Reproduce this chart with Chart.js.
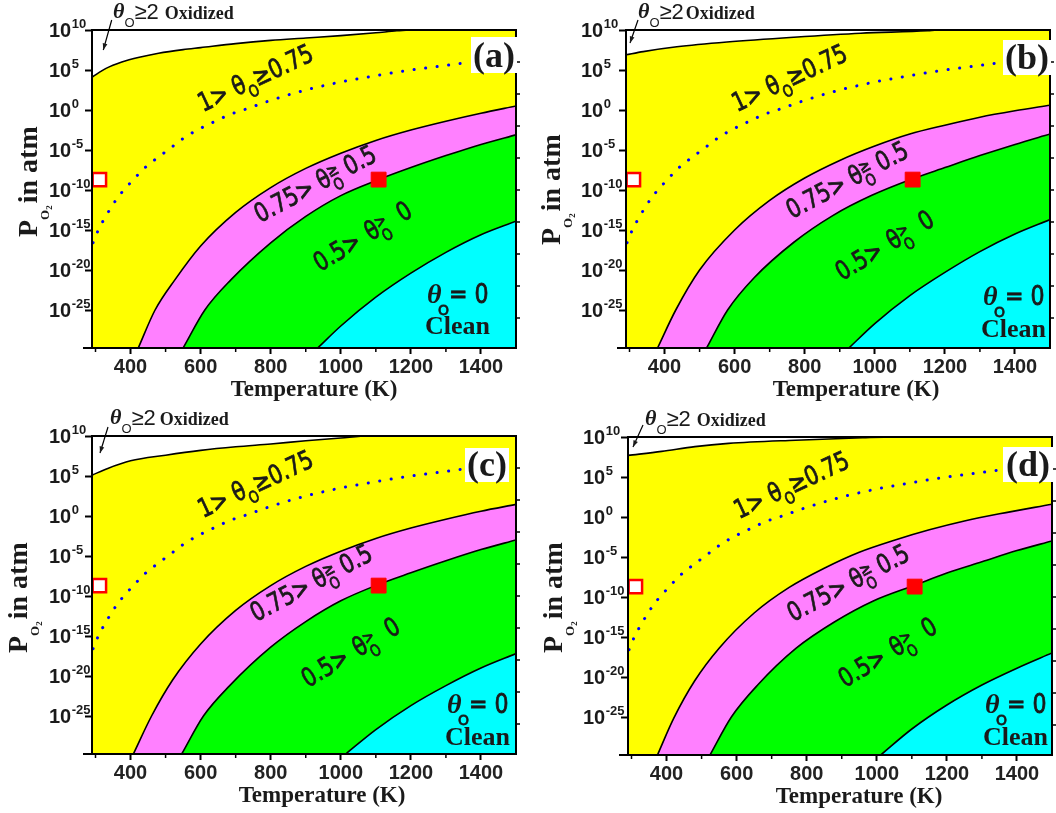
<!DOCTYPE html>
<html>
<head>
<meta charset="utf-8">
<script src="https://cdn.jsdelivr.net/npm/chart.js@4.4.0/dist/chart.umd.min.js"></script>
<style>
  html, body { margin: 0; padding: 0; background: #fff; overflow: hidden; width: 1056px; height: 813px; }
  canvas { position: absolute; }
</style>
</head>
<body>
<canvas id="pa" width="528" height="406" style="left:0;top:0"></canvas>
<canvas id="pb" width="528" height="406" style="left:534px;top:0"></canvas>
<canvas id="pc" width="528" height="406" style="left:0;top:406px"></canvas>
<canvas id="pd" width="528" height="406" style="left:536px;top:407px"></canvas>
<script>
// axis ticks
const yExps = [10, 5, 0, -5, -10, -15, -20, -25];
const xLabels = [400, 600, 800, 1000, 1200, 1400];
const xMinor = [300, 500, 700, 900, 1100, 1300];
const yRightTicks = [6, 2, -2, -6, -10, -14, -18, -22, -26];
const yMinExp = -29.75;

// boundaries, log10(P_O2 / atm) vs T (K)
// (a)
const tOxA = [290, 330, 375, 425, 480, 550, 600, 700, 800, 900, 1000, 1100, 1160, 1200, 1500];
const pOxA = [4.1, 5.2, 6.0, 6.6, 7.1, 7.55, 7.8, 8.3, 8.7, 9.0, 9.3, 9.65, 9.9, 10, 10];
const t75A = [422, 470, 527, 600, 700, 800, 900, 1000, 1100, 1200, 1300, 1400, 1500];
const p75A = [-29.75, -25, -21.2, -17, -12.8, -9.7, -7.3, -5.4, -3.8, -2.5, -1.4, -0.4, 0.5];
const t50A = [550, 612, 687, 800, 900, 1000, 1108, 1200, 1300, 1400, 1500];
const p50A = [-29.75, -25, -21.2, -16.6, -13.3, -10.7, -8.7, -7.2, -5.7, -4.3, -3.1];
const t0A = [934, 1000, 1100, 1200, 1300, 1400, 1500];
const p0A = [-29.75, -27, -23.4, -20.4, -17.8, -15.6, -13.9];
// (b)
const tOxB = [290, 339, 435, 578, 769, 960, 1151, 1180, 1500];
const pOxB = [6.9, 7.3, 7.9, 8.5, 9.1, 9.6, 9.9, 10, 10];
const t75B = [380, 432, 500, 600, 700, 800, 900, 1000, 1100, 1200, 1300, 1400, 1500];
const p75B = [-29.75, -25, -20, -15, -11.3, -8.5, -6.3, -4.5, -3.0, -1.9, -0.9, -0.1, 0.6];
const t50B = [520, 580, 655, 770, 880, 990, 1108, 1200, 1300, 1400, 1500];
const p50B = [-29.75, -25, -21, -16.5, -13.2, -10.7, -8.6, -7.2, -5.7, -4.3, -3.0];
const t0B = [926, 1000, 1100, 1200, 1300, 1400, 1500];
const p0B = [-29.75, -26.7, -23.2, -20.3, -17.7, -15.5, -13.7];
// (c)
const tOxC = [290, 335, 400, 500, 600, 700, 800, 900, 1000, 1080, 1500];
const pOxC = [5.1, 5.95, 6.9, 7.6, 8.2, 8.65, 9.0, 9.4, 9.75, 10, 10];
const t75C = [408, 460, 520, 600, 700, 800, 900, 1000, 1100, 1200, 1300, 1400, 1500];
const p75C = [-29.75, -25, -20.5, -16, -11.8, -8.7, -6.3, -4.4, -2.8, -1.5, -0.4, 0.6, 1.45];
const t50C = [546, 608, 683, 800, 900, 1000, 1105, 1200, 1300, 1400, 1500];
const p50C = [-29.75, -25, -21.2, -16.4, -13.2, -10.6, -8.6, -7.1, -5.6, -4.2, -3.0];
const t0C = [1014, 1100, 1200, 1300, 1400, 1500];
const p0C = [-29.75, -26.7, -23.7, -21.2, -19.0, -17.2];
// (d)
const tOxD = [290, 386, 481, 577, 768, 959, 1050, 1500];
const pOxD = [7.7, 8.2, 8.8, 9.2, 9.6, 9.9, 10, 10];
const t75D = [374, 420, 480, 550, 650, 750, 850, 950, 1050, 1150, 1250, 1350, 1500];
const p75D = [-29.75, -25.2, -20.5, -16.4, -12, -8.8, -6.4, -4.4, -2.9, -1.6, -0.5, 0.4, 1.6];
const t50D = [524, 585, 660, 770, 880, 990, 1110, 1200, 1300, 1400, 1500];
const p50D = [-29.75, -25, -21, -16.4, -13.1, -10.5, -8.5, -7.0, -5.6, -4.2, -3.0];
const t0D = [1011, 1100, 1200, 1300, 1400, 1500];
const p0D = [-29.75, -26.5, -23.5, -21.0, -18.9, -17.0];

// blue dotted line (same in all panels)
const tDot = [293, 309, 328, 350, 375, 406, 439, 476, 510, 544, 578, 613, 649, 684, 722, 800, 900, 1000, 1100, 1140, 1200, 1270, 1345];
const pDot = [-16.6, -14.9, -13.4, -11.8, -10.3, -8.8, -7.3, -6.0, -4.9, -3.75, -2.8, -2.0, -1.25, -0.55, 0, 1.2, 2.5, 3.5, 4.3, 4.6, 5.0, 5.4, 5.85];

// red squares [T, log10 P]
const sqOpen = [311, -8.7];
const sqFull = [1108, -8.7];

const pts = (ts, ps) => ts.map((t, i) => ({ x: t, y: Math.pow(10, ps[i]) }));

const H = '26px "DejaVu Sans"';
const Hs = '16px "DejaVu Sans"';
const Hs2 = '17px "DejaVu Sans"';
const SERIFB = '"Liberation Serif", "Times New Roman", serif';
const SANS = '"Liberation Sans", Arial, sans-serif';

function drawRuns(ctx, runs, x, y, stroke) {
  let cx = x;
  runs.forEach(r => {
    ctx.font = r.f;
    ctx.fillText(r.t, cx + (r.dx || 0), y + (r.dy || 0));
    if (stroke) ctx.strokeText(r.t, cx + (r.dx || 0), y + (r.dy || 0));
    if (!r.noAdv) cx += ctx.measureText(r.t).width + (r.gap || 0);
  });
}

function line(ctx, x1, y1, x2, y2) {
  ctx.beginPath(); ctx.moveTo(x1, y1); ctx.lineTo(x2, y2); ctx.stroke();
}

const deco = {
  id: 'deco',
  afterDraw(chart, args, o) {
    const ctx = chart.ctx, ca = chart.chartArea;
    const xs = chart.scales.x, ys = chart.scales.y;
    ctx.save();
    ctx.strokeStyle = '#000';
    ctx.fillStyle = '#1a1a1a';

    // frame
    ctx.lineWidth = 2;
    ctx.strokeRect(ca.left, ca.top, ca.right - ca.left, ca.bottom - ca.top);
    line(ctx, ca.left - 9, ca.bottom, ca.left, ca.bottom);
    ctx.lineWidth = 1.5;
    xMinor.forEach(t => {
      const x = xs.getPixelForValue(t);
      line(ctx, x, ca.bottom, x, ca.bottom + 4);
    });
    yRightTicks.forEach(e => {
      const y = ys.getPixelForValue(Math.pow(10, e));
      line(ctx, ca.right, y, ca.right + 4, y);
    });

    // y tick labels 10^n
    ctx.textAlign = 'left';
    ctx.textBaseline = 'alphabetic';
    yExps.forEach(e => {
      const y = ys.getPixelForValue(Math.pow(10, e));
      ctx.font = 'bold 20px ' + SANS;
      ctx.fillText('10', o.tickX, y + 7);
      const w = ctx.measureText('10').width;
      ctx.font = 'bold 13px ' + SANS;
      ctx.fillText(String(e), o.tickX + w + 0.5, y - 2);
    });

    // axis titles
    ctx.font = 'bold 23px ' + SERIFB;
    ctx.textAlign = 'center';
    ctx.fillText('Temperature (K)', o.xtX, 396);
    ctx.textAlign = 'left';
    ctx.save();
    ctx.translate(o.ytX, o.ytY);
    ctx.rotate(-Math.PI / 2);
    drawRuns(ctx, [
      { t: 'P', f: 'bold 28px ' + SERIFB },
      { t: 'O', f: 'bold 13px ' + SERIFB, dy: 12 },
      { t: '2', f: 'bold 9px ' + SERIFB, dy: 15, gap: 2 },
      { t: 'in atm', f: 'bold 28px ' + SERIFB }
    ], 0, 0);
    ctx.restore();

    // oxidized label + arrow
    drawRuns(ctx, [
      { t: 'θ', f: 'italic bold 22px ' + SERIFB },
      { t: 'O', f: '13px ' + SANS, dy: 9 },
      { t: '≥2', f: '22px ' + SANS, dy: 1, gap: o.oxGap },
      { t: 'Oxidized', f: 'bold 18px ' + SERIFB, dy: 1 }
    ], o.oxX, 18);
    const [ax1, ay1, ax2, ay2] = o.arrow;
    ctx.lineWidth = 1.2;
    line(ctx, ax1, ay1, ax2, ay2);
    const ang = Math.atan2(ay2 - ay1, ax2 - ax1);
    ctx.beginPath();
    ctx.moveTo(ax2, ay2);
    ctx.lineTo(ax2 - 7 * Math.cos(ang - 0.35), ay2 - 7 * Math.sin(ang - 0.35));
    ctx.lineTo(ax2 - 7 * Math.cos(ang + 0.35), ay2 - 7 * Math.sin(ang + 0.35));
    ctx.closePath();
    ctx.fill();

    // panel tag
    const [bx, by, bw, bh] = o.tagBox;
    ctx.fillStyle = '#fff';
    ctx.fillRect(bx, by, bw, bh);
    ctx.fillStyle = '#1a1a1a';
    ctx.font = 'bold 36px ' + SERIFB;
    ctx.textAlign = 'center';
    ctx.fillText(o.tag, bx + bw / 2, by + bh - 6);
    ctx.textAlign = 'left';

    // region labels (slightly emboldened, condensed)
    ctx.strokeStyle = '#1a1a1a';
    ctx.lineWidth = 0.8;
    const rot = (x, y, a, runs) => {
      ctx.save();
      ctx.translate(x, y);
      ctx.rotate(a * Math.PI / 180);
      ctx.scale(0.8, 1);
      drawRuns(ctx, runs, 0, 0, true);
      ctx.restore();
    };
    rot(203, 112, -25, [
      { t: '1> ', f: H }, { t: 'θ', f: H }, { t: 'O', f: Hs, dy: 8 }, { t: '≥0.75', f: H }
    ]);
    rot(o.l75[0], o.l75[1], -28, [
      { t: '0.75> ', f: H }, { t: 'θ', f: H }, { t: 'O', f: Hs, dy: 8, noAdv: true },
      { t: '≥', f: Hs2, dy: -7 }, { t: ' 0.5', f: H }
    ]);
    rot(o.l50[0], o.l50[1], -31, [
      { t: '0.5> ', f: H, gap: 3 }, { t: 'θ', f: H }, { t: 'O', f: Hs, dy: 8, noAdv: true },
      { t: '>', f: Hs2, dy: -7, gap: 8 }, { t: ' 0', f: H }
    ]);

    // clean label
    const [cx, cy, cy2] = o.clean;
    ctx.font = 'italic bold 28px ' + SERIFB;
    ctx.fillText('θ', cx, cy);
    ctx.font = '14px "DejaVu Sans"';
    ctx.fillText('O', cx + 11, cy + 12);
    ctx.strokeText('O', cx + 11, cy + 12);
    ctx.save();
    ctx.translate(cx + 22, cy);
    ctx.scale(0.85, 1);
    ctx.font = H;
    ctx.fillText('= 0', 0, 0);
    ctx.strokeText('= 0', 0, 0);
    ctx.restore();
    ctx.font = 'bold 26px ' + SERIFB;
    ctx.fillText('Clean', cx - 2, cy2);

    ctx.restore();
  }
};

function makePanel(id, d, o) {
  const boundary = (ts, ps, color, order) => ({
    data: pts(ts, ps),
    borderColor: '#000',
    borderWidth: 1.6,
    backgroundColor: color,
    fill: 'start',
    pointRadius: 0,
    cubicInterpolationMode: 'monotone',
    order: order
  });
  new Chart(document.getElementById(id), {
    type: 'line',
    data: {
      datasets: [
        boundary(d.tOx, d.pOx, '#ffff00', 6),
        boundary(d.t75, d.p75, '#ff80ff', 5),
        boundary(d.t50, d.p50, '#00ff00', 4),
        boundary(d.t0, d.p0, '#00ffff', 3),
        {
          data: pts(tDot, pDot),
          borderColor: '#0000ff',
          borderWidth: 3,
          borderDash: [0.1, 11.5],
          borderCapStyle: 'round',
          fill: false,
          pointRadius: 0,
          cubicInterpolationMode: 'monotone',
          order: 2
        },
        {
          data: pts([sqOpen[0]], [sqOpen[1]]),
          showLine: false,
          pointStyle: 'rect',
          pointRadius: 9.5,
          pointBorderWidth: 2.5,
          pointBorderColor: '#ff0000',
          pointBackgroundColor: '#ffffff',
          order: 1
        },
        {
          data: pts([sqFull[0]], [sqFull[1]]),
          showLine: false,
          pointStyle: 'rect',
          pointRadius: 10.5,
          pointBorderWidth: 1,
          pointBorderColor: '#ff0000',
          pointBackgroundColor: '#ff0000',
          order: 0
        }
      ]
    },
    options: {
      responsive: false,
      animation: false,
      devicePixelRatio: 1,
      events: [],
      layout: { padding: { top: 30, right: 11, left: 0, bottom: 0 } },
      plugins: { legend: { display: false }, tooltip: { enabled: false }, deco: o },
      scales: {
        x: {
          type: 'linear', min: 290, max: 1500,
          afterBuildTicks: s => { s.ticks = xLabels.map(v => ({ value: v })); },
          afterFit: s => { s.height = 58; },
          border: { display: false },
          grid: { display: true, drawOnChartArea: false, drawTicks: true, tickLength: 6, tickWidth: 2, color: '#000' },
          ticks: {
            color: '#222', padding: 1, maxRotation: 0, autoSkip: false,
            callback: v => String(v),
            font: { family: 'Liberation Sans', weight: 'bold', size: 20 }
          }
        },
        y: {
          type: 'logarithmic', min: Math.pow(10, yMinExp), max: 1e10,
          afterBuildTicks: s => { s.ticks = yExps.map(e => ({ value: Math.pow(10, e) })); },
          afterFit: s => { s.width = 92; },
          border: { display: false },
          grid: { display: true, drawOnChartArea: false, drawTicks: true, tickLength: 7, tickWidth: 2, color: '#000' },
          ticks: { callback: () => '' }
        }
      }
    },
    plugins: [deco]
  });
}

makePanel('pa', { tOx: tOxA, pOx: pOxA, t75: t75A, p75: p75A, t50: t50A, p50: p50A, t0: t0A, p0: p0A }, {
  tag: '(a)', tagBox: [471, 37, 46, 36], tickX: 49, xtX: 314, ytX: 37, ytY: 237,
  oxX: 113, oxGap: 6, arrow: [111.7, 20, 103.3, 50], l75: [260, 223], l50: [320, 272], clean: [427, 303, 334]
});
makePanel('pb', { tOx: tOxB, pOx: pOxB, t75: t75B, p75: p75B, t50: t50B, p50: p50B, t0: t0B, p0: p0B }, {
  tag: '(b)', tagBox: [469, 40, 48, 35], tickX: 47, xtX: 322, ytX: 26, ytY: 245,
  oxX: 104, oxGap: 2, arrow: [104, 20, 96, 43], l75: [258, 219], l50: [308, 281], clean: [449, 305, 337]
});
makePanel('pc', { tOx: tOxC, pOx: pOxC, t75: t75C, p75: p75C, t50: t50C, p50: p50C, t0: t0C, p0: p0C }, {
  tag: '(c)', tagBox: [465, 42, 44, 34], tickX: 49, xtX: 322, ytX: 27, ytY: 247,
  oxX: 110, oxGap: 4, arrow: [108, 21, 100, 47], l75: [256, 216], l50: [308, 282], clean: [447, 307, 339]
});
makePanel('pd', { tOx: tOxD, pOx: pOxD, t75: t75D, p75: p75D, t50: t50D, p50: p50D, t0: t0D, p0: p0D }, {
  tag: '(d)', tagBox: [467, 40, 50, 35], tickX: 47, xtX: 323, ytX: 26, ytY: 246,
  oxX: 109, oxGap: 6, arrow: [107, 18, 97, 40], l75: [257, 215], l50: [309, 281], clean: [449, 306, 338]
});
</script>
</body>
</html>
